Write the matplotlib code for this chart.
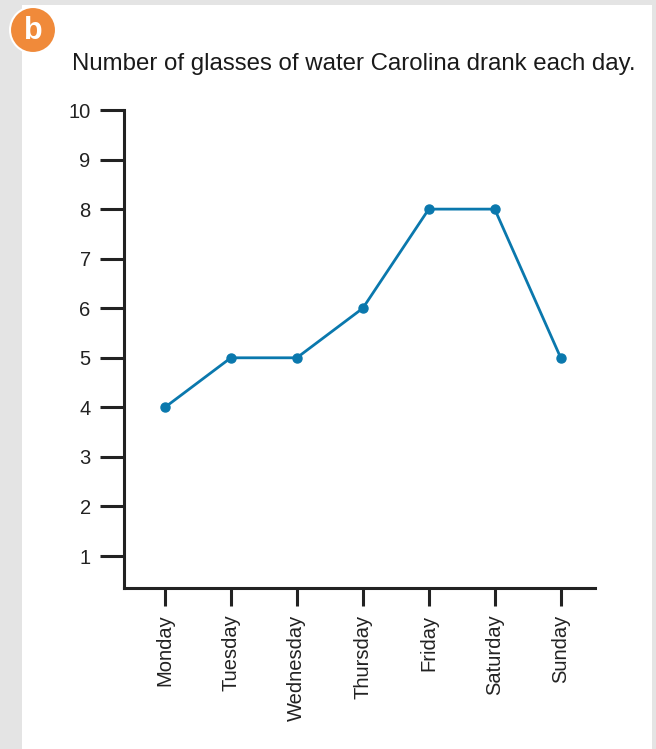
import matplotlib.pyplot as plt
from matplotlib.patches import Rectangle, Ellipse

days = ["Monday", "Tuesday", "Wednesday", "Thursday", "Friday", "Saturday", "Sunday"]
glasses = [4, 5, 5, 6, 8, 8, 5]
yticks = [1, 2, 3, 4, 5, 6, 7, 8, 9, 10]

W, H = 656, 749
plt.rcParams['font.family'] = ['Liberation Sans', 'DejaVu Sans']
fig = plt.figure(figsize=(W / 100, H / 100), dpi=100, facecolor='#e4e4e4')

# white card
fig.patches.append(Rectangle((22 / W, 0), (652 - 22) / W, (H - 5) / H,
                             transform=fig.transFigure, facecolor='white',
                             edgecolor='none', zorder=-2))

# orange badge
badge = Ellipse((33 / W, 1 - 30 / H), 46 / W, 46 / H, transform=fig.transFigure,
                facecolor='#f08a3a', edgecolor='white', linewidth=1.5, zorder=-1)
fig.patches.append(badge)
fig.text(33 / W, 1 - 31 / H, 'b', color='white', fontsize=22, fontweight='bold',
         ha='center', va='center')

fig.text(72 / W, 1 - 64 / H, 'Number of glasses of water Carolina drank each day.',
         fontsize=17.3, ha='left', va='center', color='#1a1a1a')

ax = fig.add_axes([124 / W, (H - 588) / H, (595 - 124) / W, (588 - 110) / H])
ax.set_facecolor('none')
ax.set_zorder(2)
x = list(range(len(days)))
ax.plot(x, glasses, color='#0a78ad', linewidth=2.0, marker='o', markersize=6.5,
        clip_on=False)

ax.set_xlim(-0.62, 6.52)
ax.set_ylim(0.355, 10)
ax.set_yticks(yticks)
ax.set_yticklabels([str(v) for v in yticks], fontsize=14.5, color='#222222')
ax.set_xticks(x)
ax.set_xticklabels(days, rotation=90, fontsize=14.5, color='#222222')

for side in ['top', 'right']:
    ax.spines[side].set_visible(False)
for side in ['left', 'bottom']:
    ax.spines[side].set_linewidth(2.2)
    ax.spines[side].set_color('#222222')
ax.tick_params(axis='y', length=17, width=2.2, color='#222222', pad=7)
ax.tick_params(axis='x', length=13, width=2.2, color='#222222', pad=6)

fig.savefig('out.png', dpi=100, facecolor=fig.get_facecolor())
